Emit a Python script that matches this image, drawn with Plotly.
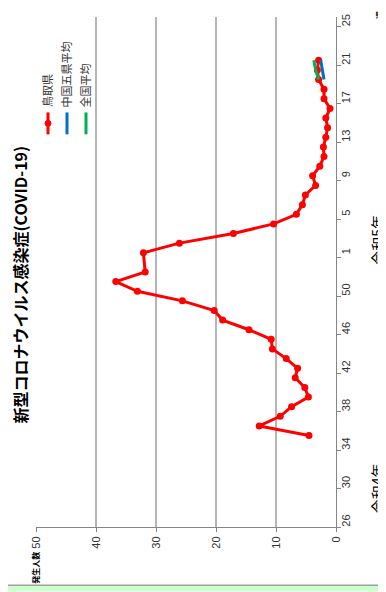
import plotly.graph_objects as go

# categories: epidemiological weeks (令和4年 week 26 .. 令和5年 week 25)
weeks = list(range(26, 54)) + list(range(1, 26))
tick_every = 4

# 鳥取県 (per week, None = no data)
tottori = [None]*9 + [4.5, 12.8, 9.3, 7.4, 4.6, 5.2, 6.8, 6.4, 8.3, 10.6, 10.8, 14.5,
                      18.9, 20.3, 25.6, 33.1, 36.7, 31.8, None,
                      32.1, 26.1, 17.1, 10.4, 6.6, 5.6, 5.1, 3.4, 3.9, 2.7, 2.0, 2.1,
                      1.7, 1.4, 1.7, 1.0, 2.0, 2.0, 2.9, 3.1, 2.9] + [None]*4
# 中国五県平均
chugoku5 = [None]*46 + [2.0, 2.3, 2.55] + [None]*4
# 全国平均
national = [None]*46 + [2.9, 3.4, 3.7] + [None]*4

series_names = ["鳥取県", "中国五県平均", "全国平均"]
series_colors = ["#FF0000", "#0070C0", "#00B050"]
value_ticks = [0, 10, 20, 30, 40, 50]

idx = list(range(len(weeks)))
tickvals = idx[::tick_every]
ticktext = [str(w) for w in weeks[::tick_every]]

# page: body margin of 8px offsets the figure inside the 386x592 window
OFF = 8
WIN_W, WIN_H = 386, 592
W, H = WIN_W - OFF, WIN_H - OFF
L, R, T, B = 36, 336, 14, 527  # plot area in window px

def px(xp):
    return (xp - L) / (R - L)

def py(yp):
    return (B - yp) / (B - T)

fig = go.Figure()
for vals, name, col in zip([tottori, chugoku5, national], series_names, series_colors):
    fig.add_trace(go.Scatter(
        x=vals, y=idx, name=name, mode="lines+markers" if name == "鳥取県" else "lines",
        line=dict(color=col, width=3), marker=dict(size=7, color=col),
        connectgaps=True, showlegend=False))

jp = "Noto Sans CJK JP"
fig.update_layout(
    width=W, height=H,
    margin=dict(l=L - OFF, r=WIN_W - R, t=T - OFF, b=WIN_H - B),
    paper_bgcolor="white", plot_bgcolor="white",
    font=dict(family="Liberation Sans, Arial, sans-serif", color="#404040", size=11),
    xaxis=dict(range=[50, 0], tickvals=value_ticks, tickangle=-90,
               showgrid=True, gridcolor="#B5B5B5", gridwidth=1.5,
               showline=True, linecolor="#868686", linewidth=1,
               ticks="outside", ticklen=4, tickcolor="#868686",
               zeroline=False, tickfont=dict(size=11, color="#333333")),
    yaxis=dict(range=[-0.5, len(weeks) - 0.5], side="right",
               tickvals=tickvals, ticktext=ticktext, tickangle=-90,
               showgrid=False, zeroline=False,
               showline=True, linecolor="#868686", linewidth=1,
               ticks="", tickfont=dict(size=11, color="#333333"),
               minor=dict(tickmode="linear", tick0=-0.5, dtick=4, ticks="outside",
                          ticklen=4, tickcolor="#868686", showgrid=False)),
)

anns = []
# title
anns.append(dict(text="<b>新型コロナウイルス感染症(COVID-19)</b>", x=px(20), y=py(283),
                 xref="paper", yref="paper", showarrow=False, textangle=-90,
                 font=dict(family=jp, size=16, color="black"), borderpad=0,
                 xanchor="center", yanchor="middle"))
# axis titles
anns.append(dict(text="令和4年", x=px(377), y=py(488), xref="paper", yref="paper",
                 showarrow=False, textangle=-90, font=dict(family=jp, size=14, color="black"),
                 xanchor="center", yanchor="middle"))
anns.append(dict(text="令和5年", x=px(377), y=py(238), xref="paper", yref="paper",
                 showarrow=False, textangle=-90, font=dict(family=jp, size=14, color="black"),
                 xanchor="center", yanchor="middle"))
anns.append(dict(text="<b>週</b>", x=px(379), y=py(12), xref="paper", yref="paper",
                 showarrow=False, textangle=-90, font=dict(family=jp, size=8, color="black"),
                 xanchor="center", yanchor="middle"))
anns.append(dict(text="<b>発生人数</b>", x=px(36), y=py(568), xref="paper", yref="paper",
                 showarrow=False, textangle=-90, font=dict(family=jp, size=8, color="black"),
                 xanchor="center", yanchor="middle"))

shapes = []
# legend (rotated)
leg_x = [48, 67, 86]
for xp_, name, col in zip(leg_x, series_names, series_colors):
    shapes.append(dict(type="line", xref="paper", yref="paper",
                       x0=px(xp_), x1=px(xp_), y0=py(110), y1=py(132),
                       line=dict(color=col, width=3)))
    if name == "鳥取県":
        shapes.append(dict(type="circle", xref="paper", yref="paper",
                           x0=px(xp_ - 3), x1=px(xp_ + 3), y0=py(118), y1=py(124),
                           fillcolor=col, line=dict(color=col, width=1)))
    anns.append(dict(text=name, x=px(xp_ - 1), y=py(107), xref="paper", yref="paper",
                     showarrow=False, textangle=-90,
                     font=dict(family=jp, size=11, color="#333333"),
                     xanchor="center", yanchor="bottom"))

# bottom strip
shapes.append(dict(type="rect", xref="paper", yref="paper",
                   x0=px(OFF), x1=px(WIN_W), y0=py(WIN_H), y1=py(586),
                   fillcolor="#CCFFCC", line=dict(width=0), layer="below"))
shapes.append(dict(type="line", xref="paper", yref="paper",
                   x0=px(OFF), x1=px(WIN_W), y0=py(585.5), y1=py(585.5),
                   line=dict(color="#A0A0A0", width=1.5)))

fig.update_layout(annotations=anns, shapes=shapes)
fig.write_html("out.html")
